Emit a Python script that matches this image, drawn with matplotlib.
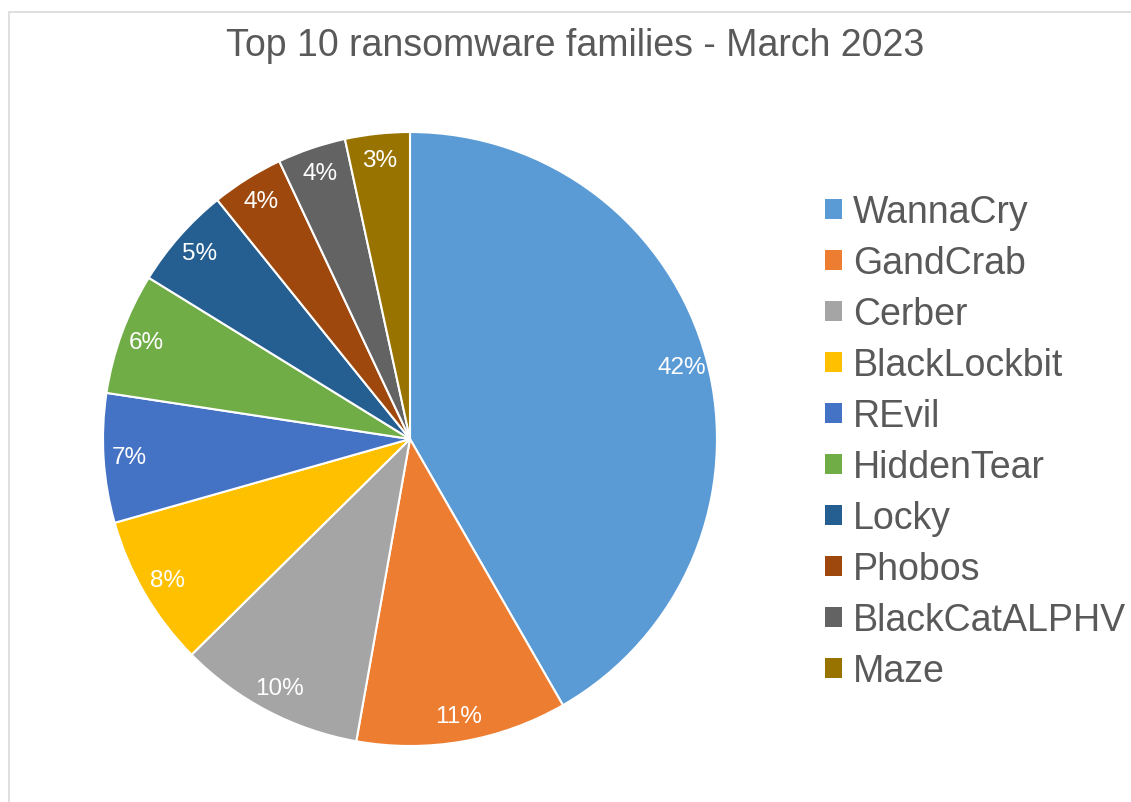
import matplotlib
matplotlib.use("Agg")
import matplotlib.pyplot as plt
from matplotlib.patches import Patch, Rectangle

plt.rcParams['font.family'] = ['Liberation Sans', 'DejaVu Sans']

title = "Top 10 ransomware families - March 2023"
families = ["WannaCry", "GandCrab", "Cerber", "BlackLockbit", "REvil",
            "HiddenTear", "Locky", "Phobos", "BlackCatALPHV", "Maze"]
shares = [41.7, 11.1, 9.8, 8.0, 6.8, 6.4, 5.4, 3.8, 3.6, 3.4]
colors = ["#5B9BD5", "#ED7D31", "#A5A5A5", "#FFC000", "#4472C4",
          "#70AD47", "#255E91", "#9E480E", "#636363", "#997300"]

W, H = 1131, 803
fig = plt.figure(figsize=(W / 100, H / 100), dpi=100)
fig.patch.set_facecolor("white")

# chart area border (top and left visible)
fig.add_artist(Rectangle((8.5 / W, -0.05), 1.2, (H - 12.5) / H + 0.05,
                         transform=fig.transFigure, fill=False,
                         edgecolor="#d9d9d9", linewidth=1.2))

cx, cy, r = 410, 440, 307
ax = fig.add_axes([(cx - r) / W, (H - cy - r) / H, 2 * r / W, 2 * r / H])
wedges, texts, autotexts = ax.pie(
    shares, colors=colors, startangle=90, counterclock=False,
    autopct=lambda p: f"{p:.0f}%", pctdistance=0.915,
    wedgeprops=dict(edgecolor="white", linewidth=1.5),
    textprops=dict(color="white", fontsize=17.5))
ax.set_xlim(-1, 1)
ax.set_ylim(-1, 1)
ax.set_aspect("equal")
ax.axis("off")

fig.text(575 / W, 1 - 46 / H, title, ha="center", va="center",
         fontsize=27, color="#595959")

handles = [Patch(facecolor=c, edgecolor="none") for c in colors]
leg = fig.legend(handles, families, loc="center left",
                 bbox_to_anchor=(825 / W, 1 - 443 / H), frameon=False,
                 fontsize=27, handlelength=0.45, handleheight=0.45,
                 handletextpad=0.3, labelspacing=0.4, borderpad=0,
                 borderaxespad=0)
for t in leg.get_texts():
    t.set_color("#595959")

fig.savefig("out.png", dpi=100, facecolor="white")
